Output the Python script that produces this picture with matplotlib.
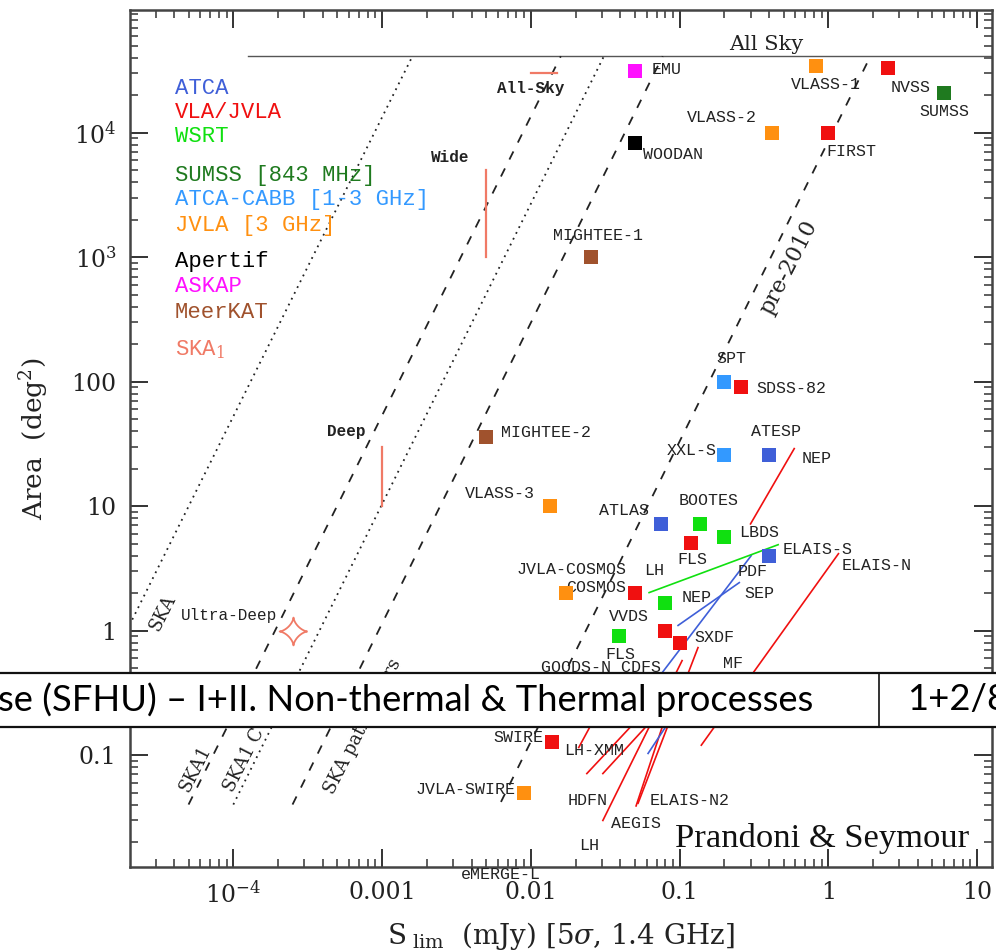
import numpy as np
import matplotlib.pyplot as plt
from matplotlib.patches import Rectangle
from matplotlib.path import Path
from matplotlib.lines import Line2D

plt.rcParams['font.family'] = ['DejaVu Serif']
plt.rcParams['mathtext.fontset'] = 'dejavuserif'

W, H = 996, 952

# ---- surveys: flux limit S_lim (mJy) and area (deg^2) ----
atca_names = ['ATLAS', 'ATESP', 'ELAIS-S']
atca_s = [0.0745, 0.40, 0.40]
atca_a = [7.2, 26.0, 4.0]

cabb_names = ['SPT', 'XXL-S']
cabb_s = [0.20, 0.20]
cabb_a = [100.0, 26.0]

vla_names = ['NVSS', 'FIRST', 'SDSS-82', 'FLS', 'COSMOS', 'VVDS', 'SXDF', 'SWIRE']
vla_s = [2.5, 1.0, 0.26, 0.119, 0.05, 0.08, 0.10, 0.0138]
vla_a = [33000, 10000, 90, 5.1, 2.0, 1.0, 0.79, 0.127]

wsrt_names = ['BOOTES', 'LBDS', 'NEP', 'FLS']
wsrt_s = [0.138, 0.20, 0.08, 0.039]
wsrt_a = [7.2, 5.6, 1.68, 0.9]

sumss_names = ['SUMSS']
sumss_s = [6.0]
sumss_a = [21000]

jvla3_names = ['VLASS-1', 'VLASS-2', 'VLASS-3', 'JVLA-COSMOS', 'JVLA-SWIRE']
jvla3_s = [0.83, 0.42, 0.0134, 0.0172, 0.009]
jvla3_a = [34500, 10000, 10.0, 2.0, 0.05]

apertif_names = ['WOODAN']
apertif_s = [0.05]
apertif_a = [8300]

askap_names = ['EMU']
askap_s = [0.05]
askap_a = [31500]

meerkat_names = ['MIGHTEE-1', 'MIGHTEE-2']
meerkat_s = [0.0253, 0.005]
meerkat_a = [1000, 36]

# survey tracks (start, end)
vla_track_s = [(0.30, 0.59), (0.14, 1.17), (0.0238, 0.055), (0.0305, 0.0695),
               (0.0305, 0.104), (0.051, 0.081), (0.0526, 0.133), (0.021, 0.0274)]
vla_track_a = [(7.2, 29), (0.12, 4.15), (0.071, 0.207), (0.071, 0.207),
               (0.0298, 0.574), (0.039, 0.207), (0.041, 0.73), (0.115, 0.207)]
atca_track_s = [(0.0977, 0.252), (0.055, 0.303), (0.0614, 0.0904)]
atca_track_a = [(1.1, 2.43), (0.274, 4.0), (0.103, 0.207)]
wsrt_track_s = [(0.0624, 0.46)]
wsrt_track_a = [(2.02, 4.9)]

# labels not tied to a square
free_names = ['NEP', 'ELAIS-N', 'LH', 'PDF', 'SEP', 'GOODS-N CDFS', 'MF', 'LH-XMM',
              'HDFN', 'ELAIS-N2', 'AEGIS', 'LH', 'eMERGE-L']
free_s = [0.83, 2.10, 0.0673, 0.308, 0.343, 0.0296, 0.229, 0.0265,
          0.0242, 0.116, 0.051, 0.0246, 0.0063]
free_a = [24.1, 3.33, 3.03, 2.98, 1.98, 0.505, 0.543, 0.109,
          0.043, 0.043, 0.0282, 0.0188, 0.011]

# survey-speed guide lines
all_sky_area = 41253
all_sky_s = (1.26e-4, 12.6)
guide_s = [(2.0e-5, 1.6e-3), (5.0e-5, 0.0159), (1.0e-4, 0.031), (2.5e-4, 0.077), (6.3e-3, 1.92)]
guide_a = [(1.1, 41253), (0.04, 41253), (0.04, 41253), (0.04, 41253), (0.042, 41253)]
guide_dotted = [True, False, True, False, False]

# SKA1 reference surveys
wide_s, wide_a = 0.005, (1000, 5000)
deep_s, deep_a = 0.001, (10, 30)
allsky_s, allsky_a = (0.01, 0.015), 30000
udeep_s, udeep_a = 2.5e-4, 1.0

xtick_vals = [1e-4, 1e-3, 1e-2, 0.1, 1, 10]
xtick_labels = [r'10$^{-4}$', '0.001', '0.01', '0.1', '1', '10']
ytick_vals = [0.1, 1, 10, 100, 1e3, 1e4]
ytick_labels = ['0.1', '1', '10', '100', r'10$^3$', r'10$^4$']

legend_items = ['ATCA', 'VLA/JVLA', 'WSRT', 'SUMSS [843 MHz]', 'ATCA-CABB [1-3 GHz]',
                'JVLA [3 GHz]', 'Apertif', 'ASKAP', 'MeerKAT', r'SKA$_1$']

c_atca = '#3f5fd8'
c_vla = '#f01010'
c_wsrt = '#10e010'
c_sumss = '#1f7a1f'
c_cabb = '#3399ff'
c_jvla3 = '#ff9010'
c_apertif = '#000000'
c_askap = '#ff10ff'
c_meerkat = '#a0522d'
c_ska = '#f07a66'
legend_colors = [c_atca, c_vla, c_wsrt, c_sumss, c_cabb, c_jvla3, c_apertif, c_askap, c_meerkat, c_ska]
legend_y = [88, 112, 137, 175, 200, 225, 262, 287, 312, 350]

fig = plt.figure(figsize=(W / 100, H / 100), dpi=100)
ax = fig.add_axes([130 / W, 1 - 867 / H, 862 / W, 857 / H])
ax.set_xscale('log')
ax.set_yscale('log')
ax.set_xlim(2.02e-5, 12.6)
ax.set_ylim(0.0126, 97000)

mono = 'Liberation Mono'
lab_kw = dict(ha='center', va='center', fontsize=12, family=mono, color='#222222')

# guide lines
ax.plot(all_sky_s, [all_sky_area] * 2, color='#555555', lw=1.0)
ax.text(0.38, 50900, 'All Sky', ha='center', va='center', fontsize=15, color='#222222')
for (s0, s1), (a0, a1), dotted in zip(guide_s, guide_a, guide_dotted):
    ln, = ax.plot([s0, s1], [a0, a1], color='#222222', lw=1.3)
    ln.set_dashes((1, 2.6) if dotted else (5, 5.5))

rot_kw = dict(rotation=63, rotation_mode='anchor', fontsize=13, color='#222222')
ax.text(3.33e-5, 1.40, 'SKA', ha='center', va='center', **rot_kw)
ax.text(5.54e-5, 0.078, 'SKA1', ha='center', va='center', **rot_kw)
ax.text(9.25e-5, 0.052, 'SKA1 C', ha='left', va='center', **rot_kw)
ax.text(4.37e-4, 0.05, 'SKA pathfinders', ha='left', va='center', **rot_kw)
ax.text(0.546, 824, 'pre-2010', ha='center', va='center', rotation=63,
        rotation_mode='anchor', fontsize=16, color='#222222')

# SKA1 surveys
ax.plot([wide_s] * 2, wide_a, color=c_ska, lw=1.6)
ax.plot([deep_s] * 2, deep_a, color=c_ska, lw=1.6)
ax.plot(allsky_s, [allsky_a] * 2, color=c_ska, lw=1.6)
t = np.linspace(0, 2 * np.pi, 80)
astroid = Path(np.column_stack([np.cos(t) ** 3, np.sin(t) ** 3]))
ax.plot([udeep_s], [udeep_a], marker=astroid, ms=20, mfc='none', mec=c_ska, mew=1.3, ls='none')
ska_lab = dict(ha='center', va='center', fontsize=11.5, family=mono, color='#222222', weight='bold')
ax.text(0.00289, 6300, 'Wide', **ska_lab)
ax.text(0.0100, 22600, 'All-Sky', **ska_lab)
ax.text(5.7e-4, 40, 'Deep', **ska_lab)
ax.text(9.4e-5, 1.32, 'Ultra-Deep', ha='center', va='center', fontsize=11.5, family=mono,
        color='#222222')

# tracks
for ts, ta, c in [(vla_track_s, vla_track_a, c_vla), (atca_track_s, atca_track_a, c_atca),
                  (wsrt_track_s, wsrt_track_a, c_wsrt)]:
    for s_pair, a_pair in zip(ts, ta):
        ax.plot(s_pair, a_pair, color=c, lw=1.2)

# squares with labels (offsets in pixels)
groups = [
    (atca_names, atca_s, atca_a, c_atca, [(-37, 13), (7, 23), (48, 6)]),
    (cabb_names, cabb_s, cabb_a, c_cabb, [(7, 23), (-33, 4)]),
    (vla_names, vla_s, vla_a, c_vla, [(23, -19), (23, -19), (50, -1), (2, -17),
                                      (-39, 6), (-36, 14), (35, 6), (-33, 5)]),
    (wsrt_names, wsrt_s, wsrt_a, c_wsrt, [(8, 23), (35, 5), (31, 5), (2, -18)]),
    (sumss_names, sumss_s, sumss_a, c_sumss, [(0, -19)]),
    (jvla3_names, jvla3_s, jvla3_a, c_jvla3, [(10, -19), (-50, 15), (-50, 13), (6, 24), (-58, 3)]),
    (apertif_names, apertif_s, apertif_a, c_apertif, [(38, -12)]),
    (askap_names, askap_s, askap_a, c_askap, [(32, 1)]),
    (meerkat_names, meerkat_s, meerkat_a, c_meerkat, [(7, 22), (60, 4)]),
]
for names, s, a, c, offs in groups:
    ax.plot(s, a, 's', color=c, ms=10, mew=0, zorder=5)
    for n, x, y, (dx, dy) in zip(names, s, a, offs):
        ax.annotate(n, (x, y), xytext=(dx, dy), textcoords='offset pixels', **lab_kw)

for n, x, y in zip(free_names, free_s, free_a):
    ax.text(x, y, n, clip_on=False, **lab_kw)

# axes styling
ax.set_xticks(xtick_vals)
ax.set_xticklabels(xtick_labels)
ax.set_yticks(ytick_vals)
ax.set_yticklabels(ytick_labels)
ax.xaxis.set_minor_formatter(plt.NullFormatter())
ax.yaxis.set_minor_formatter(plt.NullFormatter())
ax.tick_params(which='major', direction='in', length=13, width=1.4, top=True, right=True,
               labelsize=17, pad=10, color='#333333', labelcolor='#222222')
ax.tick_params(which='minor', direction='in', length=6, width=1.1, top=True, right=True, color='#333333')
for sp in ax.spines.values():
    sp.set_linewidth(1.8)
    sp.set_color('#444444')
ax.set_ylabel(r'Area  (deg$^2$)', fontsize=19, color='#222222')
ax.yaxis.set_label_coords(-0.0916, 0.5)
ax.set_xlabel(r'S$_{\rm\ lim}$  (mJy) [5$\sigma$, 1.4 GHz]', fontsize=20, color='#222222')
ax.xaxis.set_label_coords(0.5, -0.062)

# legend block
for txt, c, y in zip(legend_items, legend_colors, legend_y):
    fig.text(175 / W, 1 - y / H, txt, color=c, family=mono, fontsize=16, va='center')

# credit
fig.text(675 / W, 1 - 847 / H, 'Prandoni & Seymour', family='Liberation Serif', fontsize=24.8,
         va='baseline', color='#111111')

# slide banner across the plot
fig.add_artist(Rectangle((-0.01, 1 - 727 / H), 1.02, 54 / H, transform=fig.transFigure,
                         facecolor='white', edgecolor='#111111', lw=1.6, zorder=10))
fig.add_artist(Line2D([879 / W] * 2, [1 - 727 / H, 1 - 673 / H], transform=fig.transFigure,
                      color='#111111', lw=1.2, zorder=11))
banner_font = ['Lato', 'DejaVu Sans']
fig.text(-2 / W, 1 - 700 / H, 'se (SFHU) \u2013 I+II. Non-thermal & Thermal processes',
         family=banner_font, fontsize=26.2, va='center', ha='left', zorder=12)
fig.text(907 / W, 1 - 700 / H, '1+2/8', family=banner_font, fontsize=26.2, va='center',
         ha='left', zorder=12)

fig.savefig('out.png', dpi=100)
